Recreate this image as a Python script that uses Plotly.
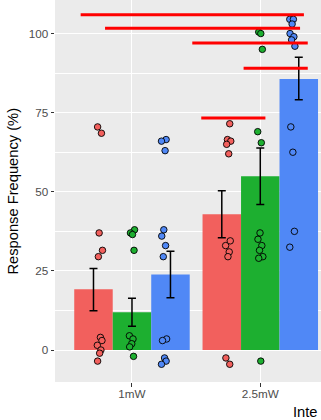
import plotly.graph_objects as go

# Stimulation intensities on the x axis
categories = ["1mW", "2.5mW"]
groups = ["Group 1", "Group 2", "Group 3"]

# Mean response frequency (%) per group at each intensity
mean_g1 = [19.2, 42.9]
mean_g2 = [11.9, 54.9]
mean_g3 = [23.9, 85.6]

# Error bar limits (lower / upper)
low_g1 = [12.4, 35.5]
low_g2 = [7.5, 46.0]
low_g3 = [16.5, 79.1]
high_g1 = [25.8, 50.3]
high_g2 = [16.4, 63.8]
high_g3 = [31.2, 92.5]

# Individual observations per group, per intensity
obs_g1_1mW = [70.5, 68.5, 37.0, 31.5, 29.5, 4.0, 3.0, 1.5, 0.0, -1.0, -3.5]
obs_g2_1mW = [38.0, 37.0, 36.5, 31.5, 4.5, 3.5, 2.0, 1.0, -2.0]
obs_g3_1mW = [66.5, 66.0, 63.0, 38.0, 36.0, 33.0, 29.5, 3.5, 3.0, -2.5, -3.5, -4.5]
obs_g1_25mW = [71.5, 66.5, 66.0, 65.0, 62.0, 34.5, 33.0, 31.0, 29.5, -2.5, -4.5]
obs_g2_25mW = [100.5, 100.0, 95.0, 69.0, 65.5, 37.0, 35.0, 33.0, 31.5, 29.5, 29.0, -3.5]
obs_g3_25mW = [104.5, 104.5, 103.0, 100.0, 99.0, 98.0, 96.0, 70.5, 62.5, 37.5, 32.5]

# Significance brackets: level and horizontal extent (axis units)
sig_level = [105.9, 101.7, 97.0, 89.0, 73.3]
sig_start = [0.60, 0.79, 1.47, 1.87, 1.54]
sig_end = [2.34, 2.31, 2.37, 2.37, 2.04]

y_ticks = [0, 25, 50, 75, 100]
x_title = "Inte"

colors = ["#F2605D", "#1DAF30", "#5088F6"]
means = [mean_g1, mean_g2, mean_g3]
lows = [low_g1, low_g2, low_g3]
highs = [high_g1, high_g2, high_g3]
obs = [[obs_g1_1mW, obs_g1_25mW], [obs_g2_1mW, obs_g2_25mW], [obs_g3_1mW, obs_g3_25mW]]

cat_pos = [i + 1 for i in range(len(categories))]
bar_w = 0.3
pt_dodge = 0.25
jitter_cycle = [-0.018, 0.012, -0.006, 0.02, -0.012, 0.004, 0.016, -0.02, 0.008, -0.002]

fig = go.Figure()

for g, name in enumerate(groups):
    xs = [p + (g - 1) * bar_w for p in cat_pos]
    fig.add_trace(go.Bar(
        x=xs, y=means[g], width=bar_w, name=name,
        marker=dict(color=colors[g], line=dict(width=0)),
        error_y=dict(type="data", symmetric=False,
                     array=[h - m for h, m in zip(highs[g], means[g])],
                     arrayminus=[m - l for m, l in zip(means[g], lows[g])],
                     color="black", thickness=1.5, width=4),
        showlegend=False, hoverinfo="skip",
    ))

for g, name in enumerate(groups):
    px, py = [], []
    for c, p in enumerate(cat_pos):
        for k, v in enumerate(obs[g][c]):
            px.append(p + (g - 1) * pt_dodge + jitter_cycle[(k + 3 * g + c) % len(jitter_cycle)])
            py.append(v)
    fig.add_trace(go.Scatter(
        x=px, y=py, mode="markers", name=name,
        marker=dict(size=6.5, color=colors[g], line=dict(color="black", width=0.9)),
        showlegend=False, hoverinfo="skip",
    ))

for lv, x0, x1 in zip(sig_level, sig_start, sig_end):
    fig.add_trace(go.Scatter(
        x=[x0, x1], y=[lv, lv], mode="lines",
        line=dict(color="#FF0000", width=3),
        showlegend=False, hoverinfo="skip",
    ))

font = "Liberation Sans, Arial, Helvetica, sans-serif"
W, H = 321, 420
ml, mb = 55, 38
unit_px = 128.3
x_hi = 0.4 + (W - ml) / unit_px

fig.update_layout(
    width=W, height=H,
    margin=dict(l=ml, r=0, t=0, b=mb, pad=0),
    paper_bgcolor="white", plot_bgcolor="#EBEBEB",
    barmode="overlay",
    font=dict(family=font),
    xaxis=dict(
        range=[0.4, x_hi], tickvals=cat_pos, ticktext=categories,
        showgrid=True, gridcolor="white", gridwidth=1.3, zeroline=False,
        ticks="outside", ticklen=3.5, tickcolor="#333333", tickwidth=1,
        ticklabelstandoff=-3,
        tickfont=dict(size=11.7, color="#4D4D4D", family=font),
        showline=False,
    ),
    yaxis=dict(
        range=[-10.1, 110.6], tickvals=y_ticks,
        showgrid=True, gridcolor="white", gridwidth=1.3, zeroline=False,
        minor=dict(dtick=12.5, tick0=0, showgrid=True, gridcolor="white", gridwidth=0.6, ticks=""),
        ticks="outside", ticklen=3.5, tickcolor="#333333", tickwidth=1,
        tickfont=dict(size=11.7, color="#4D4D4D", family=font),
        showline=False,
    ),
    annotations=[
        dict(text="Response Frequency (%)", textangle=-90, xref="paper", yref="paper",
             x=(12.5 - ml) / (W - ml), y=0.5, xanchor="center", yanchor="middle",
             showarrow=False, font=dict(size=14.7, color="black", family=font)),
        dict(text=x_title, xref="paper", yref="paper",
             x=(320 - ml) / (W - ml), y=-(411.5 - (H - mb)) / (H - mb),
             xanchor="right", yanchor="middle",
             showarrow=False, font=dict(size=14.7, color="black", family=font)),
    ],
)

fig.write_html("out.html")
